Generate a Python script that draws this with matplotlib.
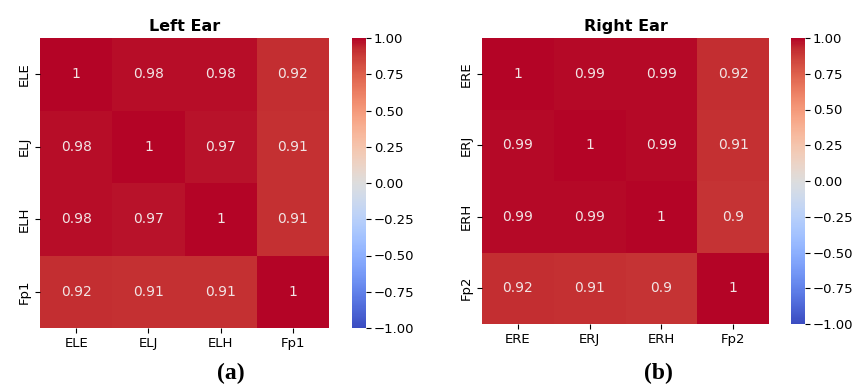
import matplotlib

matplotlib.use("Agg")

import matplotlib.pyplot as plt
import numpy as np
import pandas as pd
import seaborn as sns

left_labels = ["ELE", "ELJ", "ELH", "Fp1"]
left_corr = [
    [1.00, 0.98, 0.98, 0.92],
    [0.98, 1.00, 0.97, 0.91],
    [0.98, 0.97, 1.00, 0.91],
    [0.92, 0.91, 0.91, 1.00],
]

right_labels = ["ERE", "ERJ", "ERH", "Fp2"]
right_corr = [
    [1.00, 0.99, 0.99, 0.92],
    [0.99, 1.00, 0.99, 0.91],
    [0.99, 0.99, 1.00, 0.90],
    [0.92, 0.91, 0.90, 1.00],
]

W, H = 857, 391


def _rect(x0, y0, x1, y1):
    # pixel box -> figure fraction
    return [x0 / W, 1 - y1 / H, (x1 - x0) / W, (y1 - y0) / H]


def draw_panel(fig, data, labels, title, tag, box, cbox, tag_x):
    ax = fig.add_axes(_rect(*box))
    cax = fig.add_axes(_rect(*cbox))
    df = pd.DataFrame(np.array(data), index=labels, columns=labels)
    sns.heatmap(
        df, ax=ax, cbar_ax=cax, cmap="coolwarm", vmin=-1, vmax=1,
        annot=True, fmt=".2g", annot_kws={"size": 10, "color": "#f2e4e4"},
    )
    ax.set_title(title, fontsize=11.5, fontweight="bold", pad=5)
    ax.tick_params(labelsize=9.5, length=3.5, pad=3)
    cax.tick_params(labelsize=9.5, length=3.5, pad=2)
    ticks = np.arange(-1, 1.01, 0.25)
    cax.set_yticks(ticks)
    cax.set_yticklabels([f"{v:.2f}".replace("-", "\u2212") for v in ticks])
    fig.text(tag_x / W, 1 - 373 / H, tag, ha="center", va="center",
             fontsize=17, fontweight="bold", family="Liberation Serif")
    return ax


fig = plt.figure(figsize=(W / 100, H / 100), dpi=100)
fig.patch.set_facecolor("white")

draw_panel(fig, left_corr, left_labels, "Left Ear", "(a)",
           (40, 38, 329, 328), (352, 38, 366, 328), 231)
draw_panel(fig, right_corr, right_labels, "Right Ear", "(b)",
           (482, 38, 769, 324), (791, 38, 805, 324), 658)

fig.savefig("out.png", dpi=100, facecolor="white")
